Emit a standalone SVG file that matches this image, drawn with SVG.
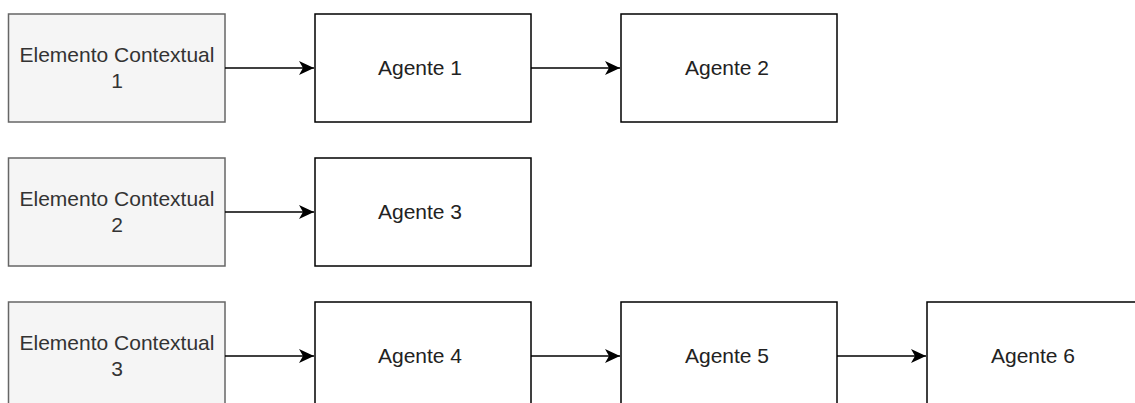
<svg xmlns="http://www.w3.org/2000/svg" width="1135" height="403" viewBox="0 0 1135 403">
  <defs>
    <style>
      .ctx rect { fill: #f5f5f5; stroke: #666666; stroke-width: 1.5; }
      .agent rect { fill: #ffffff; stroke: #000000; stroke-width: 1.5; }
      text { font-family: "Liberation Sans", Arial, sans-serif; font-size: 21px; text-anchor: middle; }
      .ctx text { fill: #333333; }
      .agent text { fill: #222222; }
      .edge { stroke: #000000; stroke-width: 1.5; fill: none; marker-end: url(#arrow); }
    </style>
    <marker id="arrow" markerWidth="16" markerHeight="16" refX="15" refY="8" orient="auto" markerUnits="userSpaceOnUse">
      <path d="M0,1 L15,8 L0,15 L4,8 Z" fill="#000000"/>
    </marker>
  </defs>

  <!-- row 1 -->
  <g id="ctx1" class="ctx">
    <rect x="8.5" y="14" width="216.5" height="108"/>
    <text x="117" y="62">Elemento Contextual</text>
    <text x="117" y="88">1</text>
  </g>
  <g id="agente1" class="agent">
    <rect x="315" y="14" width="216" height="108"/>
    <text x="420" y="75">Agente 1</text>
  </g>
  <g id="agente2" class="agent">
    <rect x="621" y="14" width="216" height="108"/>
    <text x="727" y="75">Agente 2</text>
  </g>

  <!-- row 2 -->
  <g id="ctx2" class="ctx">
    <rect x="8.5" y="158" width="216.5" height="108"/>
    <text x="117" y="206">Elemento Contextual</text>
    <text x="117" y="232">2</text>
  </g>
  <g id="agente3" class="agent">
    <rect x="315" y="158" width="216" height="108"/>
    <text x="420" y="219">Agente 3</text>
  </g>

  <!-- row 3 -->
  <g id="ctx3" class="ctx">
    <rect x="8.5" y="302" width="216.5" height="108"/>
    <text x="117" y="350">Elemento Contextual</text>
    <text x="117" y="376">3</text>
  </g>
  <g id="agente4" class="agent">
    <rect x="315" y="302" width="216" height="108"/>
    <text x="420" y="363">Agente 4</text>
  </g>
  <g id="agente5" class="agent">
    <rect x="621" y="302" width="216" height="108"/>
    <text x="727" y="363">Agente 5</text>
  </g>
  <g id="agente6" class="agent">
    <rect x="927" y="302" width="216" height="108"/>
    <text x="1033" y="363">Agente 6</text>
  </g>

  <!-- connectors -->
  <g id="connectors">
    <path class="edge" d="M225,68 L314,68"/>
    <path class="edge" d="M531,68 L620,68"/>
    <path class="edge" d="M225,212 L314,212"/>
    <path class="edge" d="M225,356 L314,356"/>
    <path class="edge" d="M531,356 L620,356"/>
    <path class="edge" d="M837,356 L926,356"/>
  </g>
</svg>
